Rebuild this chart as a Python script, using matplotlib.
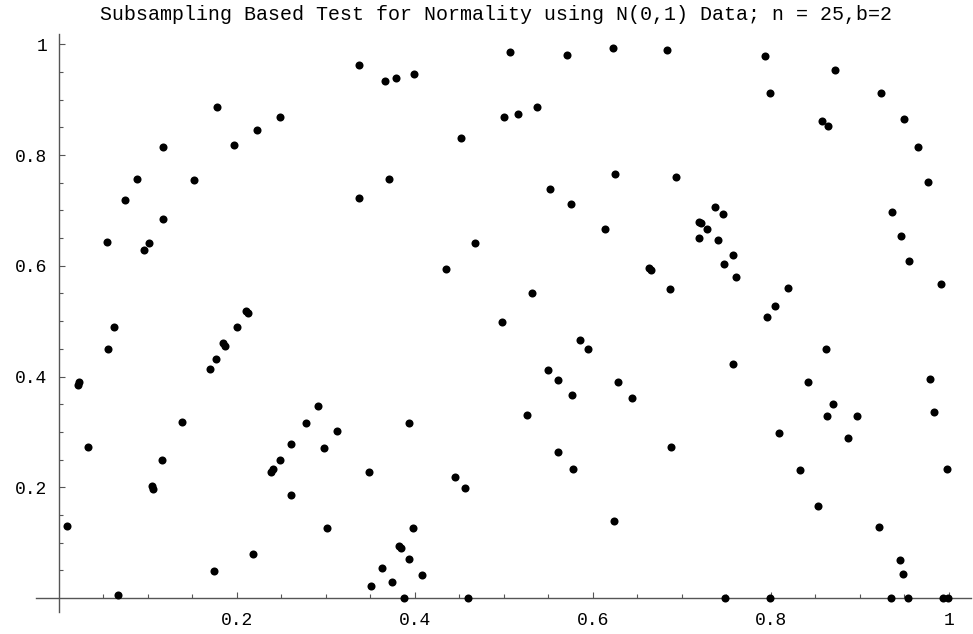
import matplotlib
matplotlib.use("Agg")
import matplotlib.pyplot as plt
from matplotlib.ticker import FixedLocator

title = "Subsampling Based Test for Normality using N(0,1) Data; n = 25,b=2"

x_vals = [
    0.337, 0.1775, 0.2487, 0.2225, 0.197, 0.1168, 0.0884, 0.152, 0.0745, 0.1168,
    0.337, 0.3666, 0.3786, 0.399, 0.5067, 0.5708, 0.6232, 0.5374, 0.5157, 0.5007,
    0.4517, 0.3707, 0.5517, 0.5756, 0.6254, 0.6138, 0.6831, 0.7936, 0.8722, 0.7996,
    0.9243, 0.8576, 0.8643, 0.9497, 0.9654, 0.9767, 0.6932, 0.9363, 0.7374, 0.7464,
    0.7198, 0.7213, 0.7288,
    0.0546, 0.1011, 0.0962, 0.0625, 0.055, 0.0225, 0.022, 0.210, 0.2127, 0.2003,
    0.1843, 0.1865, 0.1764, 0.1704, 0.2917, 0.468, 0.4348, 0.6633, 0.6652, 0.5322,
    0.4984, 0.5854, 0.5947, 0.5502, 0.5614, 0.6288, 0.5767, 0.6442, 0.5262, 0.7191,
    0.7412, 0.7576, 0.7475, 0.7607, 0.6868, 0.8194, 0.8048, 0.7962, 0.9464, 0.955,
    0.991, 0.8618, 0.7576, 0.979, 0.8423, 0.8697, 0.8629, 0.8966, 0.9831,
    0.009, 0.0326, 0.0663, 0.1385, 0.1045, 0.1063, 0.1164, 0.1741, 0.2187, 0.2389,
    0.2411, 0.2483, 0.2607, 0.2607, 0.2775, 0.2985, 0.3127, 0.3015, 0.349, 0.394,
    0.5614, 0.5779, 0.445, 0.4562, 0.6239, 0.3981, 0.382, 0.3843, 0.394, 0.3633,
    0.4079, 0.3745, 0.3513, 0.3884, 0.4602, 0.6876, 0.809, 0.8865, 0.9977, 0.8326,
    0.8528, 0.9216, 0.9453, 0.9486, 0.7486, 0.7992, 0.9352, 0.954, 0.9939, 0.9989,
]
y_vals = [
    0.963, 0.887, 0.869, 0.846, 0.819, 0.815, 0.756, 0.755, 0.718, 0.684,
    0.723, 0.934, 0.9386, 0.9458, 0.9867, 0.980, 0.9933, 0.8868, 0.874, 0.868,
    0.830, 0.756, 0.7387, 0.712, 0.766, 0.6664, 0.990, 0.9783, 0.9536, 0.912,
    0.912, 0.861, 0.8525, 0.8657, 0.8145, 0.7508, 0.761, 0.6966, 0.7056, 0.693,
    0.679, 0.6767, 0.6667,
    0.6424, 0.641, 0.628, 0.490, 0.450, 0.3907, 0.385, 0.518, 0.514, 0.4888,
    0.460, 0.4557, 0.431, 0.414, 0.3468, 0.6406, 0.594, 0.5954, 0.5924, 0.5508,
    0.4985, 0.466, 0.4497, 0.4123, 0.3931, 0.3895, 0.366, 0.3606, 0.330, 0.6496,
    0.6466, 0.620, 0.6026, 0.5797, 0.558, 0.5593, 0.5268, 0.5075, 0.6532, 0.608,
    0.5676, 0.4491, 0.4226, 0.396, 0.3907, 0.3498, 0.328, 0.328, 0.3359,
    0.1295, 0.2733, 0.006, 0.3179, 0.2023, 0.1969, 0.2492, 0.0488, 0.0795, 0.2281,
    0.2324, 0.2492, 0.2787, 0.1855, 0.3166, 0.2715, 0.3016, 0.1259, 0.227, 0.3166,
    0.2637, 0.2324, 0.219, 0.1981, 0.1396, 0.1264, 0.0945, 0.0903, 0.0699, 0.0542,
    0.041, 0.0295, 0.0211, 0.0, 0.0, 0.2733, 0.298, 0.2884, 0.2335, 0.2312,
    0.1656, 0.1277, 0.068, 0.0433, 0.0, 0.0, 0.0, 0.0, 0.0, 0.0,
]

major_ticks = [0.2, 0.4, 0.6, 0.8, 1.0]
tick_labels = ["0.2", "0.4", "0.6", "0.8", "1"]
minor_step = 0.05

W, H = 973, 634
fig = plt.figure(figsize=(W / 100, H / 100), dpi=100)
left_px, right_px = 36, 970.7
top_px, bottom_px = 34, 611.7
ax = fig.add_axes([left_px / W, 1 - bottom_px / H,
                   (right_px - left_px) / W, (bottom_px - top_px) / H])

ax.plot(x_vals, y_vals, 'o', color='black', ms=5.8, mec='black', mew=0,
        clip_on=False, zorder=3)

ax.set_xlim(-0.0255, 1.0247)
ax.set_ylim(-0.0247, 1.0186)

axis_color = '#555555'
for side in ['top', 'right']:
    ax.spines[side].set_visible(False)
for side in ['left', 'bottom']:
    ax.spines[side].set_position(('data', 0))
    ax.spines[side].set_color(axis_color)
    ax.spines[side].set_linewidth(1.0)

ax.xaxis.set_major_locator(FixedLocator(major_ticks))
ax.yaxis.set_major_locator(FixedLocator(major_ticks))
ax.set_xticklabels(tick_labels)
ax.set_yticklabels(tick_labels)
minors = [round(minor_step * i, 4) for i in range(1, 21)
          if round(minor_step * i, 4) not in major_ticks]
ax.xaxis.set_minor_locator(FixedLocator(minors))
ax.yaxis.set_minor_locator(FixedLocator(minors))

ax.tick_params(which='major', direction='in', length=4.5, width=0.8,
               color=axis_color, pad=10)
ax.tick_params(which='minor', direction='in', length=2.6, width=0.8,
               color=axis_color)
for lab in ax.get_xticklabels() + ax.get_yticklabels():
    lab.set_fontfamily('Liberation Mono')
    lab.set_fontsize(13)
    lab.set_color('black')
ax.tick_params(axis='y', which='major', pad=8)

fig.text(495.6 / W, 1 - 20 / H, title, ha='center', va='baseline',
         fontfamily='Liberation Mono', fontsize=14.4, color='black')

fig.savefig('out.png', dpi=100)
